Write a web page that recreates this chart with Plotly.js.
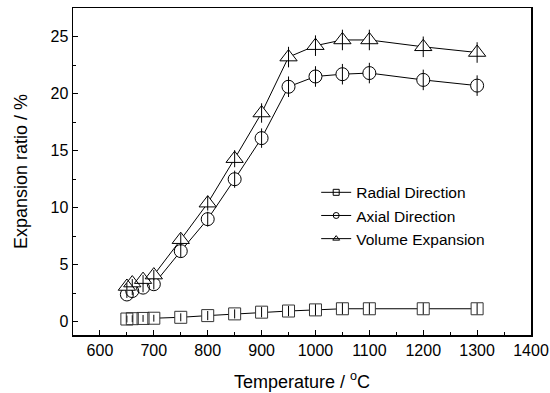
<!DOCTYPE html>
<html><head><meta charset="utf-8">
<script src="https://cdn.plot.ly/plotly-3.0.1.min.js"></script>
<style>html,body{margin:0;padding:0;background:#fff}#c{width:550px;height:393px}</style>
</head><body><div id="c"></div>
<script>
var temps = [650, 660, 680, 700, 750, 800, 850, 900, 950, 1000, 1050, 1100, 1200, 1300];
var radial = [0.25, 0.28, 0.3, 0.32, 0.4, 0.55, 0.7, 0.85, 0.95, 1.05, 1.15, 1.15, 1.15, 1.15];
var radialErr = [0.3, 0.3, 0.3, 0.3, 0.35, 0.4, 0.4, 0.45, 0.45, 0.5, 0.5, 0.5, 0.5, 0.5];
var axial = [2.4, 2.7, 3.0, 3.3, 6.2, 9.0, 12.5, 16.1, 20.6, 21.5, 21.7, 21.8, 21.2, 20.7];
var axialErr = [0.3, 0.35, 0.4, 0.45, 0.55, 0.65, 0.75, 0.85, 0.9, 0.9, 0.9, 0.9, 0.9, 0.9];
var volume = [3.1, 3.4, 3.7, 4.1, 7.2, 10.4, 14.3, 18.3, 23.2, 24.2, 24.7, 24.7, 24.1, 23.6];
var volumeErr = [0.3, 0.35, 0.4, 0.45, 0.55, 0.65, 0.75, 0.85, 0.9, 0.9, 0.9, 0.9, 0.9, 0.9];
var names = ["Radial Direction", "Axial Direction", "Volume Expansion"];

var series = [
  {y: radial, e: radialErr, sym: "square", size: 12, col: "#333"},
  {y: axial, e: axialErr, sym: "circle", size: 13, col: "#000"},
  {y: volume, e: volumeErr, sym: "triangle-up", size: 15, col: "#000"}
];
var traces = [];
series.forEach(function(s, i){
  traces.push({x: temps, y: s.y, mode: "lines+markers", showlegend: false, hoverinfo: "skip",
    line: {color: "#000", width: 1},
    marker: {symbol: s.sym, size: s.size, color: "#fff", line: {width: 0}}});
  traces.push({x: temps, y: s.y, mode: "markers", showlegend: false,
    marker: {symbol: s.sym + "-open", size: s.size, color: s.col, line: {width: 1, color: s.col}},
    error_y: {type: "data", array: s.e, visible: true, width: 0, thickness: 1, color: "#000"}});
});
series.forEach(function(s, i){
  traces.push({x: [null], y: [null], mode: "lines+markers", name: names[i], showlegend: true,
    line: {color: "#000", width: 1},
    marker: {symbol: s.sym + "-open", size: 6, color: "#000", line: {width: 1, color: "#000"}}});
});

var layout = {
  width: 550, height: 393,
  margin: {l: 73, r: 19, t: 8, b: 58},
  paper_bgcolor: "#fff", plot_bgcolor: "#fff",
  font: {family: "Liberation Sans, Arial, sans-serif", size: 16, color: "#000"},
  xaxis: {range: [550, 1400], dtick: 100, tick0: 0, ticks: "inside", ticklen: 5, tickwidth: 1, tickcolor: "#000",
    minor: {dtick: 50, ticks: "inside", ticklen: 3, tickcolor: "#000"},
    showline: true, linecolor: "#000", linewidth: 1.5, mirror: true, showgrid: false, zeroline: false,
    tickfont: {size: 16},
    title: {text: "Temperature / <sup>o</sup>C", font: {size: 18}, standoff: 17}},
  yaxis: {range: [-1.15, 27.5], dtick: 5, tick0: 0, ticks: "inside", ticklen: 5, tickwidth: 1, tickcolor: "#000",
    minor: {dtick: 2.5, ticks: "inside", ticklen: 3, tickcolor: "#000"},
    showline: true, linecolor: "#000", linewidth: 1.5, mirror: true, showgrid: false, zeroline: false,
    tickfont: {size: 16},
    title: {text: "Expansion ratio / %", font: {size: 18}, standoff: 18}},
  legend: {x: 0.531, y: 0.487, xanchor: "left", yanchor: "top", bgcolor: "rgba(0,0,0,0)",
    font: {size: 15.5}, itemwidth: 30, tracegroupgap: 0},
  showlegend: true
};
Plotly.newPlot("c", traces, layout, {displayModeBar: false, staticPlot: true});
</script></body></html>
